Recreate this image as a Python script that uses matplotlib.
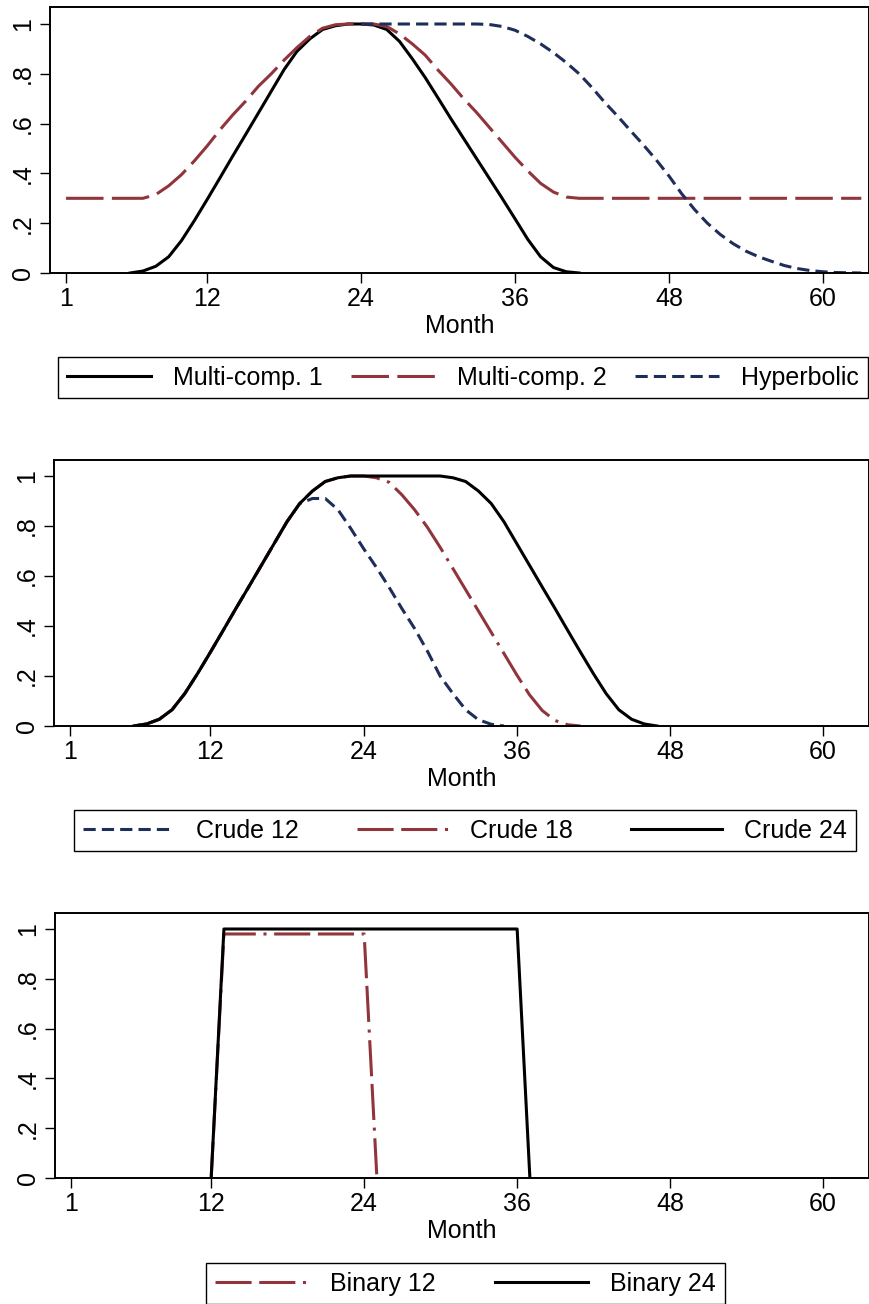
import matplotlib
matplotlib.use("Agg")
import matplotlib.pyplot as plt

plt.rcParams['font.family'] = ['Liberation Sans', 'DejaVu Sans']
plt.rcParams['lines.scale_dashes'] = False

# ---------------- data ----------------
x_ticks = [1, 12, 24, 36, 48, 60]
y_ticks = [0, 0.2, 0.4, 0.6, 0.8, 1.0]
y_ticklabels = ['0', '.2', '.4', '.6', '.8', '1']

# Panel 1
mc1_month = list(range(6, 42))
mc1_value = [0.0, 0.008, 0.027, 0.065, 0.13, 0.21, 0.295, 0.382, 0.47, 0.556,
             0.643, 0.73, 0.817, 0.89, 0.94, 0.978, 0.993, 1.0, 1.0, 0.996,
             0.978, 0.93, 0.86, 0.785, 0.703, 0.62, 0.54, 0.46, 0.38, 0.30,
             0.218, 0.135, 0.065, 0.022, 0.005, 0.0]

mc2_month = list(range(1, 64))
mc2_value = [0.3, 0.3, 0.3, 0.3, 0.3, 0.3, 0.3, 0.315, 0.35, 0.395,
             0.45, 0.51, 0.575, 0.635, 0.69, 0.75, 0.80, 0.855, 0.905, 0.95,
             0.983, 0.997, 1.0, 1.0, 1.0, 0.99, 0.96, 0.92, 0.875, 0.815,
             0.76, 0.70, 0.645, 0.585, 0.525, 0.465, 0.41, 0.36, 0.325, 0.305,
             0.3, 0.3, 0.3, 0.3, 0.3, 0.3, 0.3, 0.3, 0.3, 0.3,
             0.3, 0.3, 0.3, 0.3, 0.3, 0.3, 0.3, 0.3, 0.3, 0.3,
             0.3, 0.3, 0.3]

hyp_month = list(range(24, 64))
hyp_value = [1.0, 1.0, 1.0, 1.0, 1.0, 1.0, 1.0, 1.0, 1.0, 1.0,
             0.998, 0.99, 0.975, 0.95, 0.92, 0.885, 0.845, 0.80, 0.745, 0.685,
             0.63, 0.572, 0.515, 0.455, 0.39, 0.318, 0.255, 0.2, 0.155, 0.118,
             0.088, 0.065, 0.047, 0.03, 0.018, 0.01, 0.005, 0.002, 0.001, 0.0]

# Panel 2
c12_month = list(range(6, 36))
c12_value = [0.0, 0.008, 0.027, 0.065, 0.13, 0.21, 0.295, 0.382, 0.47, 0.556,
             0.643, 0.73, 0.817, 0.89, 0.91, 0.91, 0.865, 0.79, 0.71, 0.635,
             0.555, 0.47, 0.39, 0.30, 0.2, 0.13, 0.065, 0.025, 0.007, 0.0]

c18_month = list(range(6, 42))
c18_value = [0.0, 0.008, 0.027, 0.065, 0.13, 0.21, 0.295, 0.382, 0.47, 0.556,
             0.643, 0.73, 0.817, 0.89, 0.94, 0.978, 0.993, 1.0, 1.0, 0.993,
             0.975, 0.925, 0.865, 0.795, 0.715, 0.63, 0.545, 0.46, 0.375, 0.29,
             0.205, 0.125, 0.062, 0.022, 0.005, 0.0]

c24_month = list(range(6, 48))
c24_value = [0.0, 0.008, 0.027, 0.065, 0.13, 0.21, 0.295, 0.382, 0.47, 0.556,
             0.643, 0.73, 0.817, 0.89, 0.94, 0.978, 0.993, 1.0, 1.0, 1.0,
             1.0, 1.0, 1.0, 1.0, 1.0, 0.993, 0.978, 0.94, 0.89, 0.817,
             0.73, 0.643, 0.556, 0.47, 0.382, 0.295, 0.21, 0.13, 0.065, 0.027,
             0.008, 0.0]

# Panel 3
b12_month = [12, 13, 24, 25]
b12_value = [0.0, 0.98, 0.98, 0.0]
b24_month = [12, 13, 36, 37]
b24_value = [0.0, 1.0, 1.0, 0.0]

# ---------------- style ----------------
BLACK = '#000000'
MAROON = '#90353B'
NAVY = '#1F2D5A'
LW = 2.2
solid = '-'
longdash = (0, (27, 6))
shortdash = (0, (8.8, 4.4))
longdashdot = (0, (26, 5.5, 26, 5.5, 2.2, 5.5))

W, H = 870, 1304
fig = plt.figure(figsize=(W / 100, H / 100), dpi=100)

def px_axes(left, right, top, bottom):
    return fig.add_axes([left / W, 1 - bottom / H, (right - left) / W, (bottom - top) / H])

def style_axes(ax, ymax):
    ax.set_xlim(-0.25, 63.6)
    ax.set_ylim(0, ymax)
    ax.set_xticks(x_ticks)
    ax.set_xticklabels([str(t) for t in x_ticks])
    ax.set_yticks(y_ticks)
    ax.set_yticklabels(y_ticklabels, rotation=90, va='center')
    ax.tick_params(axis='both', direction='out', length=7, width=1.0,
                   labelsize=18, color='black')
    ax.tick_params(axis='x', pad=3)
    ax.tick_params(axis='y', pad=4)
    for s in ax.spines.values():
        s.set_linewidth(1.4)
        s.set_color('black')
    ax.set_xlabel('Month', fontsize=18, labelpad=2.5)

def add_legend(handles, labels, left, right, top, bottom, hl):
    fig.legend(handles, labels, loc='center',
               bbox_to_anchor=(left / W, 1 - bottom / H, (right - left) / W, (bottom - top) / H),
               mode='expand', ncol=len(labels), fontsize=18, frameon=True,
               fancybox=False, edgecolor='black', framealpha=1,
               handlelength=hl, handletextpad=0.9, borderpad=0.35,
               borderaxespad=0.0)

# Panel 1
ax1 = px_axes(50, 869, 7, 273)
l1, = ax1.plot(mc1_month, mc1_value, color=BLACK, lw=LW, ls=solid)
l2, = ax1.plot(mc2_month, mc2_value, color=MAROON, lw=LW, ls=longdash)
l3, = ax1.plot(hyp_month, hyp_value, color=NAVY, lw=LW, ls=shortdash)
style_axes(ax1, 266 / 249)
add_legend([l1, l2, l3], ['Multi-comp. 1', 'Multi-comp. 2', 'Hyperbolic'], 58, 868, 354, 401, 3.36)

# Panel 2
ax2 = px_axes(54, 869, 460, 726)
k1, = ax2.plot(c12_month, c12_value, color=NAVY, lw=LW, ls=shortdash)
k2, = ax2.plot(c18_month, c18_value, color=MAROON, lw=LW, ls=longdashdot)
k3, = ax2.plot(c24_month, c24_value, color=BLACK, lw=LW, ls=solid)
style_axes(ax2, 266 / 250)
add_legend([k1, k2, k3], ['Crude 12', 'Crude 18', 'Crude 24'], 74, 856, 807, 854, 3.65)

# Panel 3
ax3 = px_axes(55, 869, 913, 1178)
b1, = ax3.plot(b12_month, b12_value, color=MAROON, lw=LW, ls=longdashdot)
b2, = ax3.plot(b24_month, b24_value, color=BLACK, lw=LW, ls=solid)
style_axes(ax3, 265 / 249)
add_legend([b1, b2], ['Binary 12', 'Binary 24'], 206, 725, 1260, 1307, 3.7)

fig.savefig('out.png', dpi=100)
